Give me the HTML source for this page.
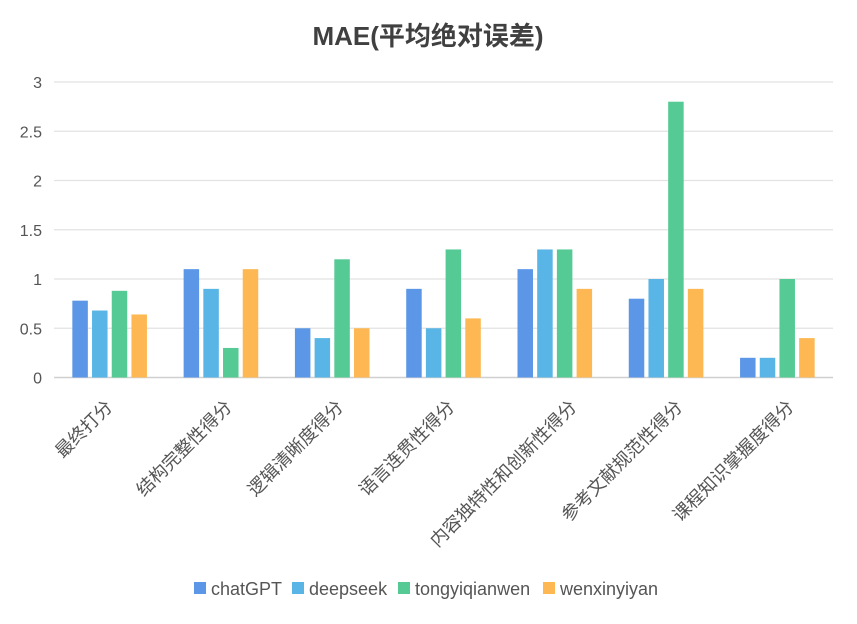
<!DOCTYPE html>
<html><head><meta charset="utf-8"><style>
body{margin:0;background:#fff;}
svg text{font-family:"Liberation Sans","Noto Sans CJK SC",sans-serif;}
</style></head><body>
<svg id="c" width="857" height="619"></svg>
<script>
const categories=["最终打分","结构完整性得分","逻辑清晰度得分","语言连贯性得分","内容独特性和创新性得分","参考文献规范性得分","课程知识掌握度得分"];
const seriesNames=["chatGPT","deepseek","tongyiqianwen","wenxinyiyan"];
const chatGPT=[0.78,1.1,0.5,0.9,1.1,0.8,0.2];
const deepseek=[0.68,0.9,0.4,0.5,1.3,1.0,0.2];
const tongyiqianwen=[0.88,0.3,1.2,1.3,1.3,2.8,1.0];
const wenxinyiyan=[0.64,1.1,0.5,0.6,0.9,0.9,0.4];
const yTicks=["0","0.5","1","1.5","2","2.5","3"];
const series=[chatGPT,deepseek,tongyiqianwen,wenxinyiyan];
const colors=["#5B97E6","#58B5E5","#55CA95","#FDB853"];
const svg=document.getElementById('c');const NS="http://www.w3.org/2000/svg";
function el(t,a,p){const e=document.createElementNS(NS,t);for(const k in a)e.setAttribute(k,a[k]);(p||svg).appendChild(e);return e;}
const L=54,R=833,Y0=377.5,Y3=82;
const y=v=>Y0-(v/3)*(Y0-Y3);
const step=(R-L)/categories.length;
const cx=i=>L+step*(i+0.5);
let t=el('text',{x:428,y:45,'text-anchor':'middle','font-size':26,'font-weight':'bold',fill:'#404040'});t.textContent="MAE(平均绝对误差)";


yTicks.forEach(s=>{const v=parseFloat(s);
 const g=el('line',{x1:L,x2:R,y1:y(v),y2:y(v),stroke:v===0?'#d0d0d0':'#e2e2e2','stroke-width':v===0?1.5:1.2});
 
 
 const tx=el('text',{x:42,y:y(v)+6,'text-anchor':'end','font-size':16,fill:'#555'});tx.textContent=s;
 
 
});
const bw=15.5,gap=4.2;
categories.forEach((c,i)=>{
 series.forEach((s,j)=>{
  const x=cx(i)-(4*bw+3*gap)/2+j*(bw+gap);
  const r=el('rect',{x:x,y:y(s[i]),width:bw,height:Y0-y(s[i]),fill:colors[j]});
  
  
 });
 const lx=cx(i)+4+(c.length-4)*2.7,ly=408;
 const tx=el('text',{x:lx,y:ly,'text-anchor':'end','font-size':18,fill:'#555',transform:`rotate(-45 ${lx} ${ly})`});tx.textContent=c;
 
 
});
let lxp=194;
seriesNames.forEach((n,j)=>{
 const r=el('rect',{x:lxp,y:582,width:12,height:12,fill:colors[j]});
 
 
 const tx=el('text',{x:lxp+17,y:595,'font-size':18,fill:'#555'});tx.textContent=n;
 
 
 lxp+=[98,106,145][j]||0;
});
</script>
</body></html>
